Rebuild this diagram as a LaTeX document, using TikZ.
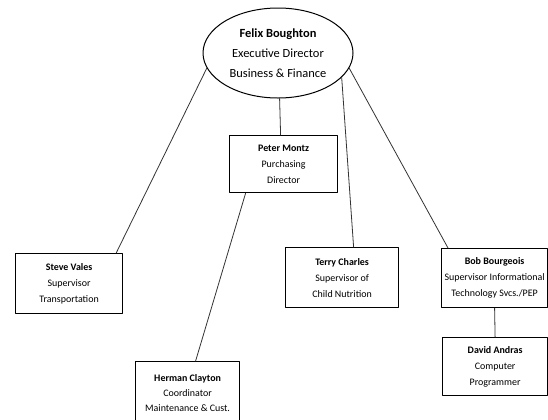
\documentclass[tikz,border=0pt]{standalone}
\usepackage{fontspec}
\setmainfont{Carlito}
\usetikzlibrary{shapes.geometric}
\begin{document}
\begin{tikzpicture}[
	x=1bp,y=-1bp,
	line width=0.8bp,
	line cap=round,
	line join=round,
	staff/.style={draw,line width=1.2bp,rectangle,anchor=north west,inner sep=0pt,align=center,font=\fontsize{10}{16}\selectfont},
	boss/.style={draw,ellipse,line width=1bp,minimum width=150bp,minimum height=90bp,inner sep=0pt,align=center,font=\fontsize{12.5}{20}\selectfont}
	]
	\useasboundingbox (0,0) rectangle (548,419);
	\node[boss] (felix) at (278,53) {\textbf{Felix Boughton}\\Executive Director\\Business \& Finance};
	\node[staff,minimum width=108bp,minimum height=57bp] (peter) at (229,135) {\textbf{Peter Montz}\\Purchasing\\Director};
	\node[staff,minimum width=107bp,minimum height=60bp] (steve) at (15,253) {\textbf{Steve Vales}\\Supervisor\\Transportation};
	\node[staff,minimum width=113bp,minimum height=60bp] (terry) at (285,247) {\textbf{Terry Charles}\\Supervisor of\\Child Nutrition};
	\node[staff,minimum width=106bp,minimum height=59bp] (bob) at (441,248) {\textbf{Bob Bourgeois}\\Supervisor Informational\\Technology Svcs./PEP};
	\node[staff,minimum width=105bp,minimum height=58bp] (david) at (442,337) {\textbf{David Andras}\\Computer\\Programmer};
	\node[staff,minimum width=104bp,minimum height=62bp,font=\fontsize{10}{15}\selectfont] (herman) at (135,361) {\textbf{Herman Clayton}\\Coordinator\\Maintenance \& Cust.};
	\begin{scope}[black!80]
		\draw (felix.192) -- ([xshift=-7bp]steve.north east);
		\draw (felix.272) -- ([xshift=-3bp]peter.north);
		\draw (felix.339) -- ([xshift=11.5bp]terry.north);
		\draw (felix.348) -- ([xshift=7bp]bob.north west);
		\draw ([xshift=-38bp]peter.south) -- ([xshift=8bp]herman.north);
		\draw (bob.south) -- (david.north);
	\end{scope}
\end{tikzpicture}
\end{document}
